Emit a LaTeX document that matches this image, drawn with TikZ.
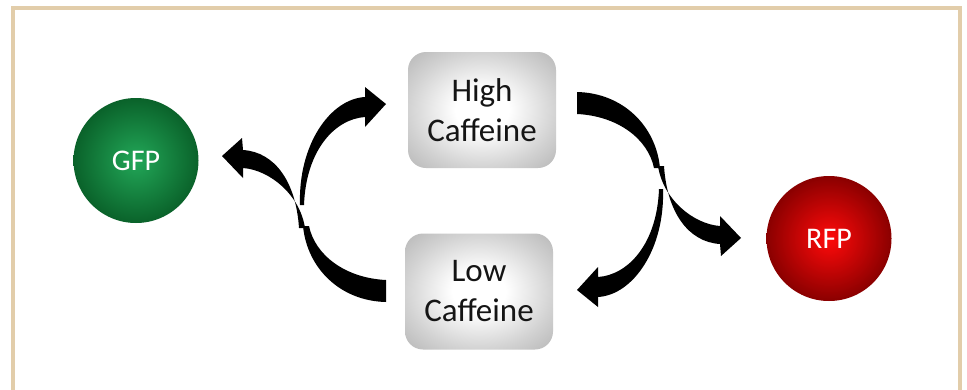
\documentclass[tikz,border=0pt]{standalone}
\usepackage{fontspec}
\setmainfont{Carlito}
\definecolor{framec}{HTML}{E2CDAA}
\definecolor{gfpin}{HTML}{22A758}
\definecolor{gfpout}{HTML}{0A622A}
\definecolor{rfpin}{HTML}{FF0A0A}
\definecolor{rfpout}{HTML}{8A0000}
\definecolor{boxmid}{HTML}{D2D2D2}
\definecolor{boxout}{HTML}{B6B6B6}
\definecolor{txt}{HTML}{151515}
\pgfdeclareradialshading{boxshade}{\pgfpoint{0bp}{0bp}}{color(0bp)=(white); color(9bp)=(white); color(25bp)=(boxmid); color(36bp)=(boxout); color(50bp)=(boxout)}
\tikzset{
  ball/.style={circle, minimum size=125pt, inner sep=0pt, text=white, font=\fontsize{30}{36}\selectfont},
  cbox/.style={rounded corners=18pt, minimum width=148pt, minimum height=116pt, inner sep=0pt,
     shading=boxshade, align=center, text=txt, font=\fontsize{33}{40}\selectfont},
  arrowfill/.style={fill=black}
}
\newcommand\myarrowset{%
  \fill[arrowfill] (386,280) .. controls (345,278) and (315,255) .. (309,226) -- (303,226) .. controls (307,268) and (340,301) .. (386,302) -- cycle;
  \fill[arrowfill] (299,228) .. controls (296,182) and (275,152) .. (243,150) -- (242,138) -- (222,156) -- (243,178) -- (243,168) .. controls (270,170) and (300,195) .. (305,228) -- cycle;
  \fill[arrowfill] (300,205) .. controls (298,145) and (330,99) .. (365,97) -- (365,87) -- (386,104) -- (365,127) -- (365,117) .. controls (335,119) and (306,150) .. (304,205) -- cycle;
}
\begin{document}
\begin{tikzpicture}[x=1pt,y=-1pt]
\useasboundingbox (0,0) rectangle (967,389);
\clip (0,0) rectangle (967,389);
\fill[white] (0,0) rectangle (967,389);
\draw[framec, line width=4.5pt] (13,8) rectangle (960,420);
\node[ball, inner color=gfpin, outer color=gfpout] (gfp) at (136,160.5) {GFP};
\node[ball, inner color=rfpin, outer color=rfpout] (rfp) at (829,238.5) {RFP};
\node[cbox] (high) at (482,110) {High\\Caffeine};
\node[cbox] (low) at (479,291.5) {Low\\Caffeine};
\myarrowset
\begin{scope}[rotate around={180:(481.5,197)}]
\myarrowset
\end{scope}
\end{tikzpicture}
\end{document}
